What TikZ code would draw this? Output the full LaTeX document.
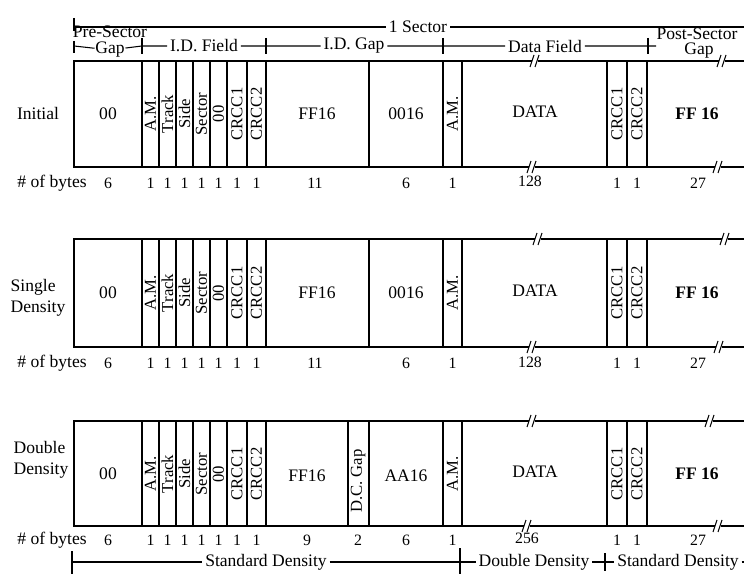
\documentclass[tikz,border=0pt]{standalone}
\usepackage{fontspec}
\setmainfont{Liberation Serif}
\usetikzlibrary{positioning}

\begin{document}
\begin{tikzpicture}[
    x=0.02cm, y=-0.02cm,
    frame/.style={line width=1.1pt},
    rule/.style={line width=0.6pt},
    fld/.style={inner sep=1pt},
    vfld/.style={rotate=90, inner sep=0pt, font=\fontsize{9.5}{9.5}\selectfont},
    cnt/.style={inner sep=1pt, font=\small},
    hdr/.style={fill=white, inner sep=1.5pt},
    rowlbl/.style={align=left, inner sep=1pt},
    brk/.pic={
      \fill[white] (-3,-2.5) rectangle (3,2.5);
      \draw[rule] (-5,6) -- (-1,-6) (0,6) -- (4,-6);
    },
  ]
  \useasboundingbox (0,0) rectangle (744,574);

  % 1 Sector span
  \coordinate (secL) at (74,27);
  \coordinate (secR) at (744,27);
  \node[hdr] (sec) at (418,27) {1 Sector};
  \draw[rule] (secL) -- (sec) -- (secR);
  \draw[rule] (74,18) -- (74,31);

  % field spans above the boxes
  \node[hdr, inner sep=0.3pt] (pre) at (110,50) {Gap};
  \node[inner sep=0pt] (pretop) at (110,32) {Pre-Sector};
  \node[hdr] (idf) at (204,46) {I.D. Field};
  \node[hdr] (idg) at (354,46) {I.D. Gap};
  \node[hdr] (daf) at (545,46) {Data Field};
  \node[inner sep=0pt] (post) at (697,34) {Post-Sector};
  \node[inner sep=0pt] (postgap) at (699,51) {Gap};
  \coordinate (f0) at (74,46);
  \coordinate (f1) at (142,46);
  \coordinate (f2) at (266,46);
  \coordinate (f3) at (443,46);
  \coordinate (f4) at (648,46);
  \coordinate (f5) at (656,46);
  \draw[rule] (f0) -- (pre) -- (f1) -- (idf) -- (f2) -- (idg) -- (f3) -- (daf) -- (f4) -- (f5);
  \foreach \x in {142,266,443,648}
    \draw[rule] (\x,38) -- (\x,54);
  \draw[rule] (74,41) -- (74,53);

  % row frames and field borders
  \foreach \r/\tp/\bt in {ini/61/167, sgl/239/347, dbl/421/526} {
    \draw[frame] (744,\tp) -- (74,\tp) -- (74,\bt) -- (744,\bt);
    \foreach \x in {142,159,176,193,210,227,247,266,369,443,462,607,627,647}
      \draw[frame] (\x,\tp) -- (\x,\bt);
  }
  \draw[frame] (348,421) -- (348,526);

  % breaks in the long fields
  \foreach \x/\y in {535/61, 722/61, 532/167, 718/167,
                     538/239, 725/239, 532/347, 719/347,
                     532/421, 710/421, 527/526, 718/526}
    \pic at (\x,\y) {brk};

  % field contents
  \foreach \r/\m in {ini/114, sgl/293, dbl/474} {
    \node[fld] (\r-pre) at (108,\m) {00};
    \foreach \x/\lbl [count=\i] in {150.5/A.M., 167.5/Track, 184.5/Side,
        201.5/Sector, 218.5/00, 237/CRCC1, 256.5/CRCC2,
        452.5/A.M., 617/CRCC1, 637/CRCC2}
      \node[vfld] (\r-v\i) at (\x,\m) {\lbl};
    \node[fld] (\r-data) at (535,\m-2) {DATA};
    \node[fld, font=\bfseries] (\r-post) at (697,\m) {FF 16};
  }
  \node[fld] (ini-ff) at (317,114) {FF16};
  \node[fld] (ini-gap) at (406,114) {0016};
  \node[fld] (sgl-ff) at (317,293) {FF16};
  \node[fld] (sgl-gap) at (406,293) {0016};
  \node[fld] (dbl-ff) at (307,476) {FF16};
  \node[vfld] (dbl-dc) at (358,481) {D.C. Gap};
  \node[fld] (dbl-gap) at (406,476) {AA16};

  % row names
  \node[rowlbl] (ini) at (38,113) {Initial};
  \node[rowlbl] (sgl) at (38,298) {Single\\Density};
  \node[rowlbl] (dbl) at (41,460) {Double\\Density};

  % byte counts
  \foreach \r/\y in {ini/183, sgl/363, dbl/540} {
    \node[cnt, font=\normalsize] (\r-nb) at (52,\y) {\# of bytes};
    \node[cnt] (\r-n0) at (108,\y) {6};
    \foreach \x [count=\i] in {150.5,167.5,184.5,201.5,218.5,237,256.5}
      \node[cnt] (\r-n\i) at (\x,\y) {1};
    \node[cnt] (\r-nam) at (452.5,\y) {1};
    \node[cnt] (\r-nc1) at (617,\y) {1};
    \node[cnt] (\r-nc2) at (637,\y) {1};
    \node[cnt] (\r-npost) at (698,\y) {27};
  }
  \node[cnt] (ini-nff) at (315,183) {11};
  \node[cnt] (ini-ngap) at (406,183) {6};
  \node[cnt] (ini-ndata) at (530,181) {128};
  \node[cnt] (sgl-nff) at (315,363) {11};
  \node[cnt] (sgl-ngap) at (406,363) {6};
  \node[cnt] (sgl-ndata) at (530,362) {128};
  \node[cnt] (dbl-nff) at (307,540) {9};
  \node[cnt] (dbl-ndc) at (358,540) {2};
  \node[cnt] (dbl-ngap) at (406,540) {6};
  \node[cnt] (dbl-ndata) at (527,538) {256};

  % density spans below
  \node[hdr] (std1) at (266,562) {Standard Density};
  \node[hdr] (dd) at (534,562) {Double Density};
  \node[hdr] (std2) at (678,562) {Standard Density};
  \coordinate (d0) at (72,562);
  \coordinate (d1) at (460,562);
  \coordinate (d2) at (605,562);
  \coordinate (d3) at (744,562);
  \draw[rule] (d0) -- (std1) -- (d1) -- (dd) -- (d2) -- (std2) -- (d3);
  \draw[rule] (72,551) -- (72,574);
  \draw[rule] (460,548) -- (460,574);
  \draw[rule] (605,553) -- (605,571);
\end{tikzpicture}
\end{document}
